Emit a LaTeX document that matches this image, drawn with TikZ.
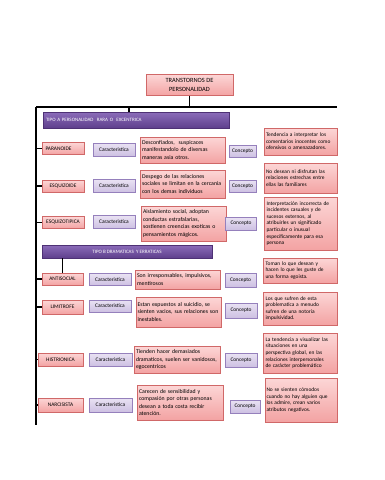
\documentclass[tikz,border=0pt]{standalone}
\usepackage{fontspec}
\setmainfont{Carlito}
\usepackage{xcolor}
\usetikzlibrary{shadows}
\definecolor{pinkline}{HTML}{D06868}
\definecolor{pinktop}{HTML}{FCD6D6}
\definecolor{pinkbot}{HTML}{F3A3A3}
\definecolor{lilacline}{HTML}{9580BC}
\definecolor{lilactop}{HTML}{E9E2F3}
\definecolor{lilacbot}{HTML}{CDC0E2}
\definecolor{barline}{HTML}{4E3175}
\definecolor{bartop}{HTML}{8C6DBA}
\definecolor{barbot}{HTML}{5E3F8C}

\begin{document}
\begin{tikzpicture}[
  x=1pt, y=-1pt,
  link/.style={line width=1.3pt, black},
  box/.style={draw, line width=0.6pt, inner sep=1.5pt, drop shadow={shadow xshift=0.8pt, shadow yshift=-0.9pt, opacity=0.3}},
  sz/.style 2 args={minimum width=#1pt, minimum height=#2pt},
  pinkbox/.style={box, draw=pinkline, top color=pinktop, bottom color=pinkbot, align=left},
  lilac/.style={box, draw=lilacline, top color=lilactop, bottom color=lilacbot, font=\fontsize{5.4}{6.5}\selectfont},
  title/.style={pinkbox, align=center, font=\fontsize{6.4}{9.5}\selectfont},
  bar/.style={box, draw=barline, top color=bartop, bottom color=barbot, text=white, font=\fontsize{5}{6}\selectfont},
  disorder/.style={pinkbox, font=\fontsize{5.4}{6.5}\selectfont},
  desc/.style={pinkbox, text width=82pt, font=\fontsize{5.8}{7.6}\selectfont},
  meaning/.style={pinkbox, text width=69pt, font=\fontsize{5.4}{6.6}\selectfont}
]
  \useasboundingbox (0,0) rectangle (384,480);
  \node[title, sz={87}{21}] (top) at (189.5,85) {TRANSTORNOS DE\\PERSONALIDAD};
  \coordinate (trunkL) at (36,107);
  \coordinate (trunkR) at (337,107);
  \coordinate (spineEnd) at (36,425);
  \coordinate (jA) at (129,107);

  \node[bar, sz={186}{16}, text width=180pt, align=left] (barA) at (136,120) {TIPO A PERSONALIDAD \ RARA O \ EXCENTRICA};

  \node[disorder, sz={42}{12}] (n1) at (63,148.5) {PARANOIDE\hspace{9pt}};
  \node[lilac, sz={42}{13}] (c1) at (114,149.5) {Caracteristica};
  \node[desc, sz={85}{26}] (d1) at (183,150) {Desconfiados, \ suspicaces\\manifestandolo de diversas\\maneras asia otros.};
  \node[lilac, sz={27}{12}] (k1) at (242.5,151) {Concepto};
  \node[meaning, sz={73}{27}] (m1) at (300.5,141.5) {Tendencia a interpretar los\\comentarios inocentes como\\ofensivos o amenazadores.};

  \node[disorder, sz={42}{12}] (n2) at (63,186) {ESQUIZOIDE};
  \node[lilac, sz={42}{13}] (c2) at (114,186) {Caracteristica};
  \node[desc, sz={85}{28}] (d2) at (183,184) {Despego de las relaciones\\sociales se limitan en la cercania\\con los demas individuos};
  \node[lilac, sz={27}{12}] (k2) at (242.5,186) {Concepto};
  \node[meaning, sz={73}{30}] (m2) at (300.5,178) {No desean ni disfrutan las\\relaciones estrechas entre\\ellas las familiares};

  \node[disorder, sz={42}{12}] (n3) at (63,222.5) {ESQUIZOTIPICA};
  \node[lilac, sz={42}{13}] (c3) at (114,222) {Caracteristica};
  \node[desc, sz={85}{35}] (d3) at (184,223.5) {Aislamiento social, adoptan\\conductas estrafalarias,\\sostienen creencias exoticas o\\pensamientos mágicos.};
  \node[lilac, sz={31}{13}] (k3) at (241,223.5) {Concepto};
  \node[meaning, sz={73}{53}] (m3) at (301,223.5) {Interpretación incorrecta de\\incidentes casuales y de\\sucesos externos, al\\atribuirles un significado\\particular o inusual\\específicamente para esa\\persona};

  \node[bar, sz={170}{13}] (barB) at (127,251.5) {TIPO B DRAMATICAS \ Y ERRATICAS};

  \node[disorder, sz={41}{12}] (n4) at (62.5,279) {ANTISOCIAL};
  \node[lilac, sz={42}{12}] (c4) at (110,279.5) {Caracteristica};
  \node[desc, sz={85}{19}] (d4) at (178,279.5) {Son irresponsables, impulsivos,\\mentirosos};
  \node[lilac, sz={31}{14}] (k4) at (240.5,280) {Concepto};
  \node[meaning, sz={74}{25}] (m4) at (300,270.5) {Toman lo que desean y\\hacen lo que les guste de\\una forma egoista.};

  \node[disorder, sz={41}{14}] (n5) at (62.5,307) {LIMITROFE};
  \node[lilac, sz={42}{12}] (c5) at (110,306) {Caracteristica};
  \node[desc, sz={85}{30}] (d5) at (178.5,312) {Estan expuestos al suicidio, se\\sienten vacios, sus relaciones son\\inestables.};
  \node[lilac, sz={32}{15}] (k5) at (241,310.5) {Concepto};
  \node[meaning, sz={74}{33}] (m5) at (300,308.5) {Los que sufren de esta\\problematica a menudo\\sufren de una notoria\\impulsividad.};

  \node[disorder, sz={45}{13}] (n6) at (60.5,359.5) {HISTRIONICA};
  \node[lilac, sz={43}{13}] (c6) at (110.5,359.5) {Caracteristica};
  \node[desc, sz={86}{27}] (d6) at (177,359.5) {Tienden hacer demasiados\\dramaticos, suelen ser vanidosos,\\egocentricos};
  \node[lilac, sz={32}{14}] (k6) at (241,360) {Concepto};
  \node[meaning, sz={74}{40}] (m6) at (300,353) {La tendencia a visualizar las\\situaciones en una\\perspectiva global, en las\\relaciones interpersonales\\de carácter problemático};

  \node[disorder, sz={45}{14}] (n7) at (60.5,405) {NARCISISTA};
  \node[lilac, sz={43}{14}] (c7) at (110.5,405) {Caracteristica};
  \node[desc, sz={86}{35}] (d7) at (180,402.5) {Carecen de sensibilidad y\\compasión por otras personas\\desean a toda costa recibir\\atención.};
  \node[lilac, sz={30}{13}] (k7) at (245,406.5) {Concepto};
  \node[meaning, sz={72}{44}] (m7) at (301,400) {No se sienten cómodos\\cuando no hay alguien que\\los admire, crean varios\\atributos negativos.};

  \draw[link] (top.south) -- (top.south |- trunkL);
  \draw[link] (trunkL) -- (trunkR);
  \draw[link] (trunkL) -- (spineEnd);
  \draw[link] (jA) -- (jA |- barA.north);
  \draw[link] (barB.south -| n4.north) -- (n4.north);
  \foreach \i in {1,...,7}
    \draw[link] (trunkL |- n\i.west) -- (n\i.west);
\end{tikzpicture}
\end{document}
